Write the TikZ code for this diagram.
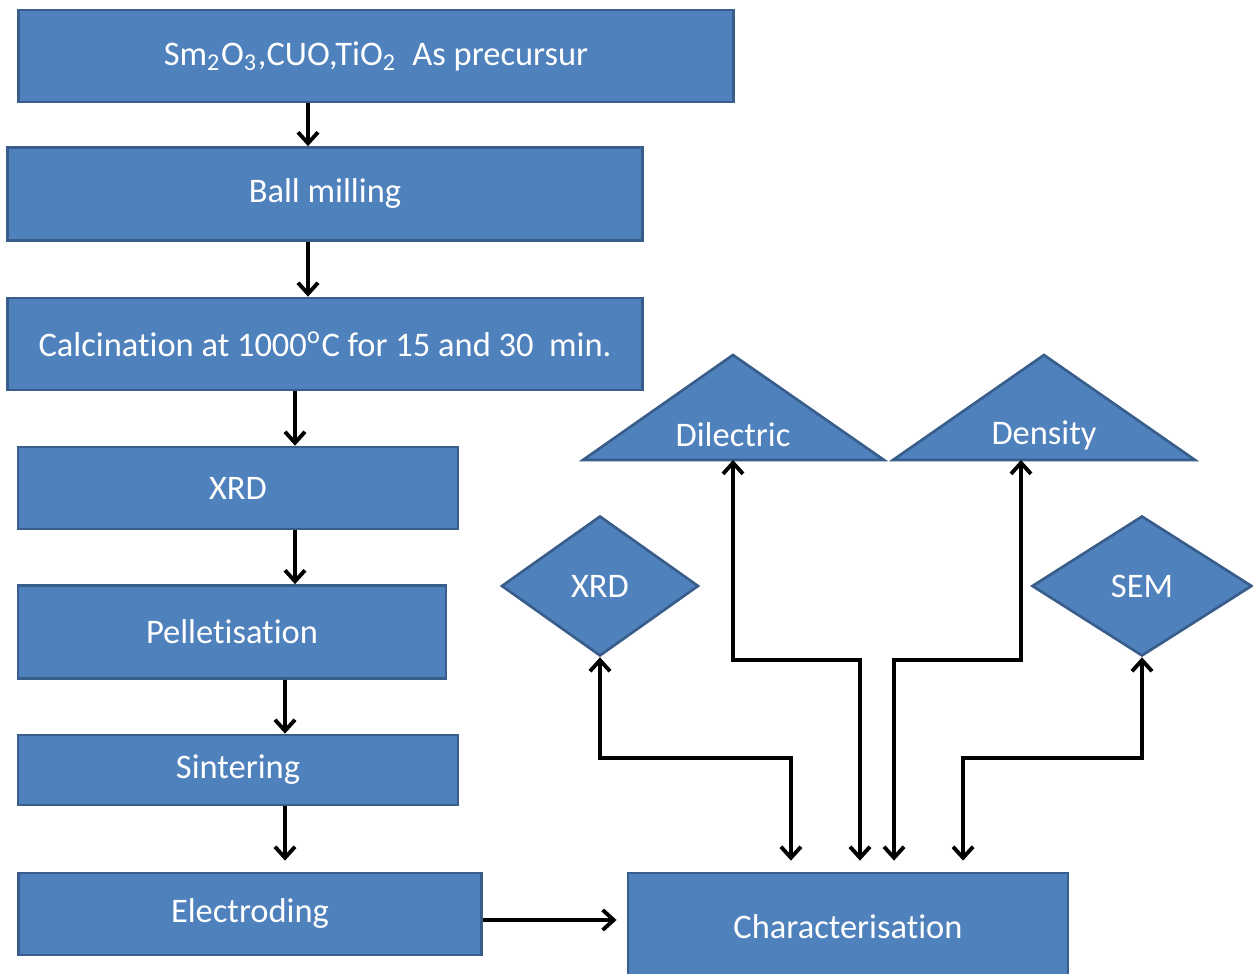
\documentclass[tikz,border=0pt]{standalone}
\usepackage{fontspec}
\setmainfont{Carlito}[Ligatures={NoCommon}]
\usetikzlibrary{arrows.meta}
\usetikzlibrary{shapes.geometric}
\usetikzlibrary{positioning}
\definecolor{boxfill}{HTML}{4F81BD}
\definecolor{boxline}{HTML}{385D8A}

\begin{document}
\begin{tikzpicture}[x=0.01cm, y=-0.01cm,
    box/.style={draw=boxline, fill=boxfill, line width=0.75pt, text=white, inner sep=0pt,
      font=\fontsize{9.8}{11}\selectfont},
    lbl/.style={text=white, inner sep=0pt, font=\fontsize{9.8}{11}\selectfont},
    arr/.style={line width=1.1pt, -{Straight Barb[length=1.1mm,width=2mm]}},
    both/.style={line width=1.1pt, {Straight Barb[length=1.1mm,width=2mm]}-{Straight Barb[length=1.1mm,width=2mm]}}]
        \useasboundingbox (0,0) rectangle (1253,974);
        \node [box, minimum width=7.15cm, minimum height=0.92cm] (pre) at (376,56) {Sm\textsubscript{2}O\textsubscript{3},CUO,TiO\textsubscript{2}\ \ As precursur};
        \node [box, minimum width=6.34cm, minimum height=0.93cm] (ball) at (325,194) {Ball milling};
        \node [box, minimum width=6.34cm, minimum height=0.92cm] (calc) at (325,344) {Calcination at 1000\textsuperscript{o}C for 15 and 30\ \ min.};
        \node [box, minimum width=4.40cm, minimum height=0.82cm] (xrd) at (238,488) {XRD};
        \node [box, minimum width=4.28cm, minimum height=0.93cm] (pell) at (232,632) {Pelletisation};
        \node [box, minimum width=4.40cm, minimum height=0.70cm] (sint) at (238,770) {Sintering};
        \node [box, minimum width=4.63cm, minimum height=0.82cm] (elec) at (250,914) {Electroding};
        \node [box, minimum width=4.40cm, minimum height=1.08cm] (char) at (848,927) {Characterisation};
      \foreach \a/\b/\x in {pre/ball/308, ball/calc/308, calc/xrd/295, xrd/pell/295, pell/sint/285}
      {
        \draw [arr] (\x,0 |- \a.south) -- (\x,0 |- \b.north);
      }
      \draw [arr, shorten >=0.11cm] (285,0 |- sint.south) -- (285,0 |- elec.north);
      \draw [arr, shorten >=0.1cm] ([yshift=-0.06cm]elec.east) -- ([yshift=-0.06cm]elec.east -| char.west);
        \filldraw [draw=boxline, fill=boxfill, line width=0.75pt] (733,355) -- (884,460) -- (583,460) -- cycle;
        \filldraw [draw=boxline, fill=boxfill, line width=0.75pt] (1044,355) -- (1195,460) -- (893,460) -- cycle;
        \node [lbl] (dil) at (733,435) {Dilectric};
        \node [lbl] (dens) at (1044,435) {Density};
        \node [box, diamond, minimum width=1.97cm, minimum height=1.40cm] (xrdt) at (600,586) {XRD};
        \node [box, diamond, minimum width=2.20cm, minimum height=1.40cm] (sem) at (1142,586) {SEM};
      \coordinate (dilb) at (733,460);
      \coordinate (densb) at (1021,460);
      \coordinate (lowbend) at (0,758);
      \coordinate (highbend) at (0,660);
      \coordinate (c1) at ([xshift=-0.57cm]char.north);
      \coordinate (c2) at ([xshift=0.12cm]char.north);
      \coordinate (c3) at ([xshift=0.46cm]char.north);
      \coordinate (c4) at ([xshift=1.15cm]char.north);
      \draw [both, shorten >=0.11cm] (xrdt.south) |- (lowbend -| c1) -- (c1);
      \draw [both, shorten >=0.11cm] (dilb) |- (highbend -| c2) -- (c2);
      \draw [both, shorten >=0.11cm] (densb) |- (highbend -| c3) -- (c3);
      \draw [both, shorten >=0.11cm] (sem.south) |- (lowbend -| c4) -- (c4);
    \end{tikzpicture}
\end{document}
